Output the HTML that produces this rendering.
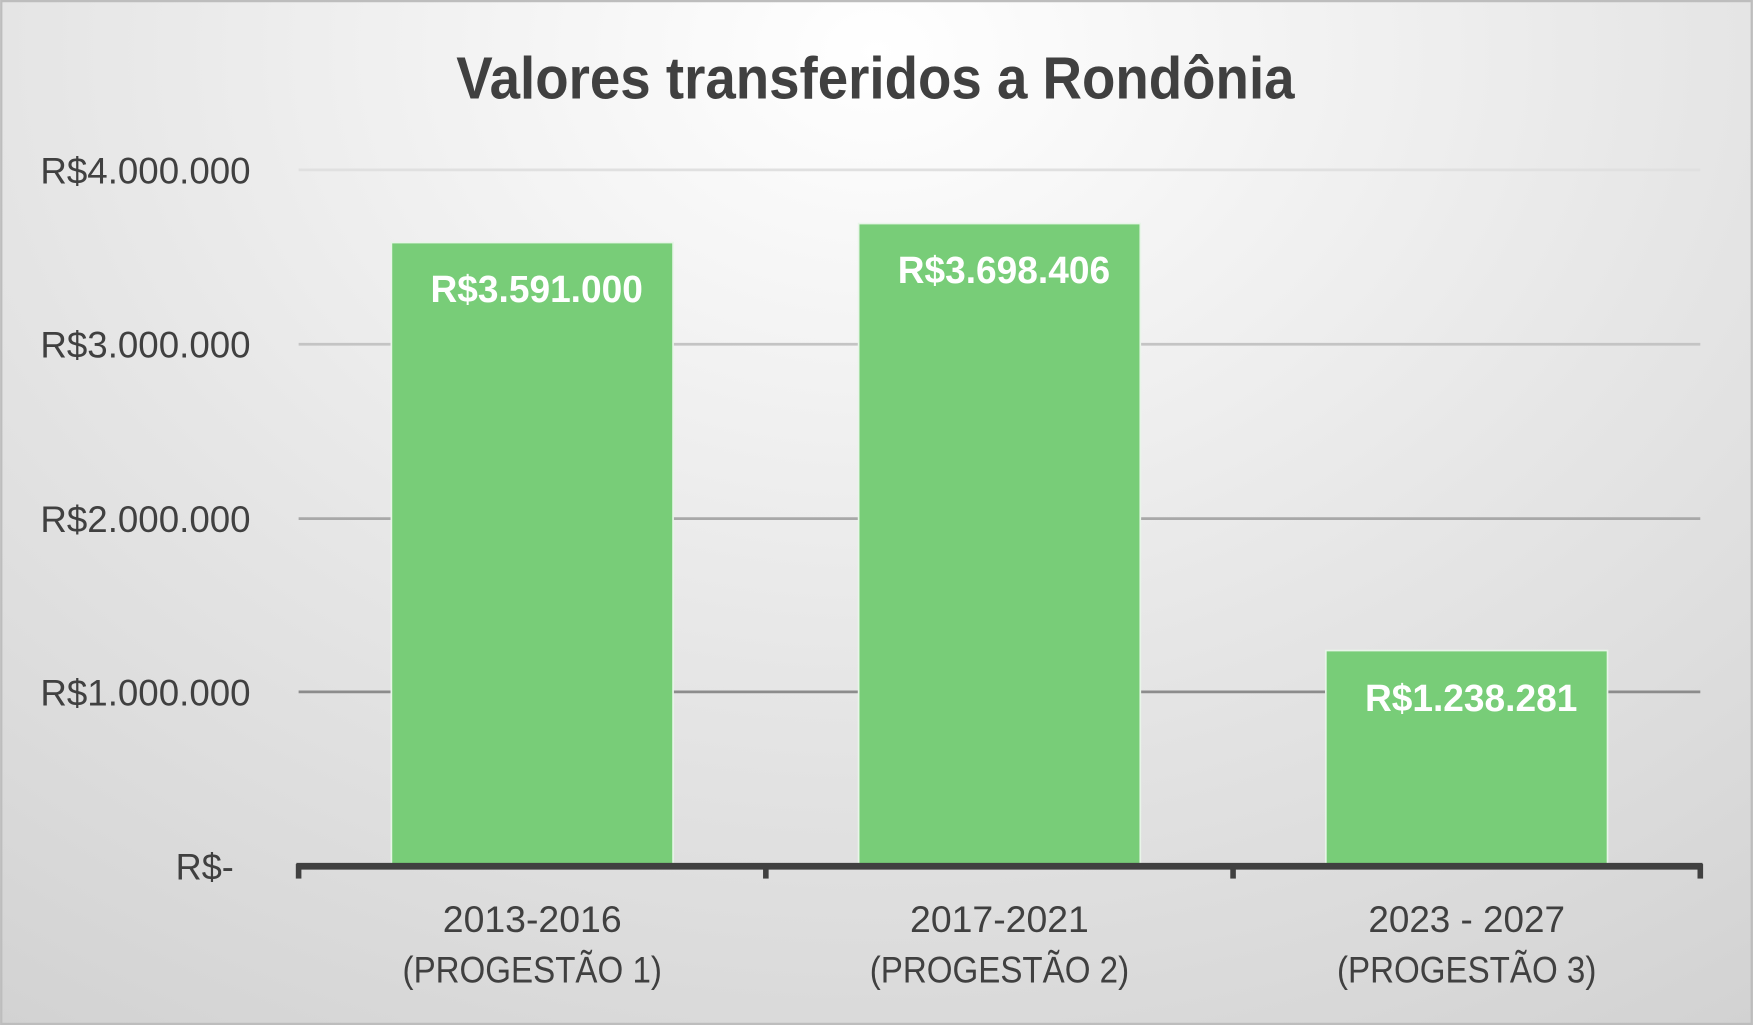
<!DOCTYPE html>
<html><head><meta charset="utf-8"><style>
html,body{margin:0;padding:0;width:1753px;height:1025px;overflow:hidden;background:#d4d4d4}
svg{display:block}
</style></head><body>
<svg width="1753" height="1025" viewBox="0 0 1568 917" xmlns="http://www.w3.org/2000/svg" font-family="'Liberation Sans', sans-serif">
<defs>
<radialGradient id="bg" cx="0.5" cy="0.05" r="0.95" fx="0.5" fy="0.05" gradientTransform="translate(0.5 0.05) scale(1 1.3) translate(-0.5 -0.05)">
<stop offset="0" stop-color="#ffffff"/>
<stop offset="0.5" stop-color="#e6e6e6"/>
<stop offset="1" stop-color="#cfcfcf"/>
</radialGradient>
</defs>
<rect x="0" y="0" width="1568" height="917" fill="url(#bg)"/>
<rect x="1" y="1" width="1566" height="915" fill="none" stroke="#bdbdbd" stroke-width="2"/>
<text x="783" y="88" text-anchor="middle" font-size="53" font-weight="bold" fill="#404040" textLength="750" lengthAdjust="spacingAndGlyphs">Valores transferidos a Rondônia</text>
<g stroke-width="2.5">
<line x1="267" x2="1521" y1="152" y2="152" stroke="#e0e0e0"/>
<line x1="267" x2="1521" y1="308" y2="308" stroke="#c4c4c4"/>
<line x1="267" x2="1521" y1="464" y2="464" stroke="#a8a8a8"/>
<line x1="267" x2="1521" y1="619" y2="619" stroke="#8c8c8c"/>
</g>
<g font-size="33" fill="#404040" text-anchor="end">
<text x="224" y="164" textLength="188" lengthAdjust="spacingAndGlyphs">R$4.000.000</text>
<text x="224" y="320" textLength="188" lengthAdjust="spacingAndGlyphs">R$3.000.000</text>
<text x="224" y="476" textLength="188" lengthAdjust="spacingAndGlyphs">R$2.000.000</text>
<text x="224" y="631" textLength="188" lengthAdjust="spacingAndGlyphs">R$1.000.000</text>
<text x="209" y="787" textLength="52" lengthAdjust="spacingAndGlyphs">R$-</text>
</g>
<g fill="#78cd78" stroke="#e8f5e8" stroke-width="1.5">
<rect x="350" y="217" width="252" height="558"/>
<rect x="768" y="200" width="252" height="575"/>
<rect x="1186" y="582" width="252" height="193"/>
</g>
<g font-size="34" font-weight="bold" fill="#ffffff" text-anchor="middle">
<text x="480" y="270" textLength="190" lengthAdjust="spacingAndGlyphs">R$3.591.000</text>
<text x="898" y="253" textLength="190" lengthAdjust="spacingAndGlyphs">R$3.698.406</text>
<text x="1316" y="636" textLength="190" lengthAdjust="spacingAndGlyphs">R$1.238.281</text>
</g>
<g stroke="#404040">
<line x1="265" x2="1523" y1="775" y2="775" stroke-width="6"/>
<line x1="267" x2="267" y1="773" y2="786" stroke-width="5"/>
<line x1="685" x2="685" y1="773" y2="786" stroke-width="5"/>
<line x1="1103" x2="1103" y1="773" y2="786" stroke-width="5"/>
<line x1="1521" x2="1521" y1="773" y2="786" stroke-width="5"/>
</g>
<g font-size="33" fill="#404040" text-anchor="middle">
<text x="476" y="834" textLength="160" lengthAdjust="spacingAndGlyphs">2013-2016</text>
<text x="476" y="879" textLength="232" lengthAdjust="spacingAndGlyphs">(PROGESTÃO 1)</text>
<text x="894" y="834" textLength="160" lengthAdjust="spacingAndGlyphs">2017-2021</text>
<text x="894" y="879" textLength="232" lengthAdjust="spacingAndGlyphs">(PROGESTÃO 2)</text>
<text x="1312" y="834" textLength="176" lengthAdjust="spacingAndGlyphs">2023 - 2027</text>
<text x="1312" y="879" textLength="232" lengthAdjust="spacingAndGlyphs">(PROGESTÃO 3)</text>
</g>
</svg>
</body></html>
